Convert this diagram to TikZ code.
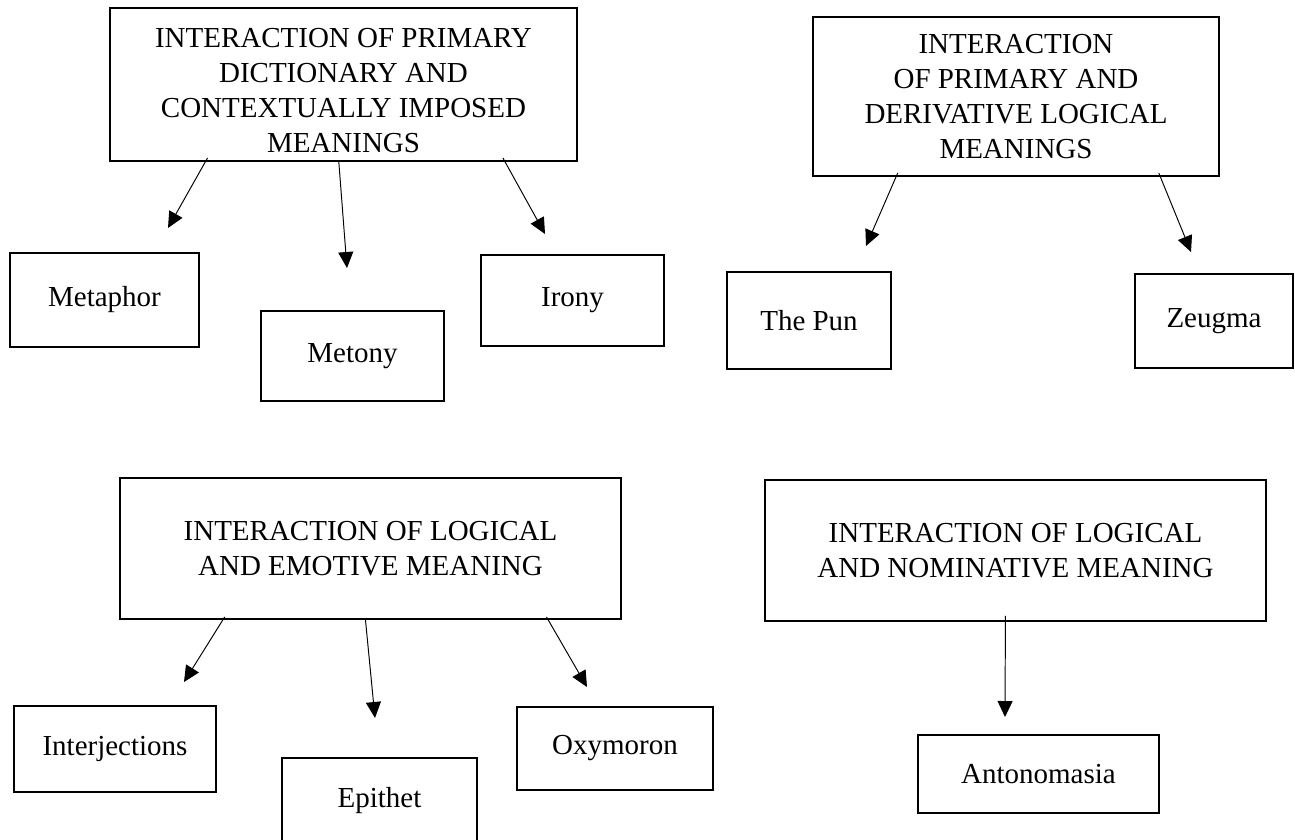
\documentclass[tikz,border=0pt]{standalone}
\usepackage{fontspec}
\setmainfont{Liberation Serif}
\usetikzlibrary{arrows.meta,calc}

\begin{document}
\begin{tikzpicture}[x=0.02cm,y=-0.02cm,
		head/.style={draw=black,line width=1.1pt,align=center,inner sep=0pt,font=\fontsize{16.5}{19.9}\selectfont},
		leaf/.style={draw=black,line width=1.1pt,inner sep=0pt,font=\fontsize{16.5}{19.9}\selectfont},
		arr/.style={-{Triangle[length=0.32cm,width=0.3cm]},line width=0.55pt}
		]
		\useasboundingbox (0,0) rectangle (1295,839);
		\clip (0,0) rectangle (1295,839);
		
		% --- Primary dictionary vs contextual
		\node[head,minimum width=9.34cm,minimum height=3.06cm] (dict) at (343.5,84.5)
		{\rule{0pt}{0.62cm}INTERACTION OF PRIMARY\\DICTIONARY AND\\CONTEXTUALLY IMPOSED\\MEANINGS};
		\node[leaf,minimum width=3.78cm,minimum height=1.88cm] (metaphor) at (104.5,300) {Metaphor};
		\node[leaf,minimum width=3.66cm,minimum height=1.80cm] (metony) at (352.5,356) {Metony};
		\node[leaf,minimum width=3.66cm,minimum height=1.82cm] (irony) at (572.5,300.5) {Irony};
		\coordinate (tmetaphor) at (168,228);
		\coordinate (tmetony) at (347,268);
		\coordinate (tirony) at (545,234);
		\draw[arr] ($(dict.south west)!0.21!(dict.south east)+(0,-4)$) -- (tmetaphor);
		\draw[arr] ($(dict.south west)!0.49!(dict.south east)$) -- (tmetony);
		\draw[arr] ($(dict.south west)!0.84!(dict.south east)+(0,-4)$) -- (tirony);
		
		% --- Primary vs derivative logical
		\node[head,minimum width=8.12cm,minimum height=3.18cm] (deriv) at (1016,96.5)
		{INTERACTION\\OF PRIMARY AND\\DERIVATIVE LOGICAL\\MEANINGS};
		\node[leaf,minimum width=3.28cm,minimum height=1.94cm] (pun) at (809,320.5) {The Pun};
		\node[leaf,minimum width=3.16cm,minimum height=1.88cm] (zeugma) at (1214,321) {Zeugma};
		\coordinate (tpun) at (866,246);
		\coordinate (tzeugma) at (1191,252);
		\draw[arr] ($(deriv.south west)!0.21!(deriv.south east)+(0,-4)$) -- (tpun);
		\draw[arr] ($(deriv.south west)!0.85!(deriv.south east)+(0,-4)$) -- (tzeugma);
		
		% --- Logical vs emotive
		\node[head,minimum width=10.02cm,minimum height=2.82cm] (emot) at (370.5,548.5)
		{INTERACTION OF LOGICAL\\AND EMOTIVE MEANING};
		\node[leaf,minimum width=4.04cm,minimum height=1.72cm] (interj) at (115,749) {Interjections};
		\node[leaf,minimum width=3.90cm,minimum height=1.72cm] (epithet) at (379.5,801) {Epithet};
		\node[leaf,minimum width=3.92cm,minimum height=1.66cm] (oxym) at (615,748.5) {Oxymoron};
		\coordinate (tinterj) at (184,682);
		\coordinate (tepithet) at (375,718);
		\coordinate (toxym) at (587,687);
		\draw[arr] ($(emot.south west)!0.21!(emot.south east)+(0,-3)$) -- (tinterj);
		\draw[arr] ($(emot.south west)!0.49!(emot.south east)$) -- (tepithet);
		\draw[arr] ($(emot.south west)!0.85!(emot.south east)+(0,-3)$) -- (toxym);
		
		% --- Logical vs nominative
		\node[head,minimum width=10.02cm,minimum height=2.82cm] (nomin) at (1015.5,550.5)
		{INTERACTION OF LOGICAL\\AND NOMINATIVE MEANING};
		\node[leaf,minimum width=4.82cm,minimum height=1.56cm] (antonom) at (1038.5,774) {Antonomasia};
		\coordinate (tantonom) at (1005,717);
		\draw[arr] ($(nomin.south west)!0.48!(nomin.south east)+(0,-6)$) -- (tantonom);
		
	\end{tikzpicture}
\end{document}
